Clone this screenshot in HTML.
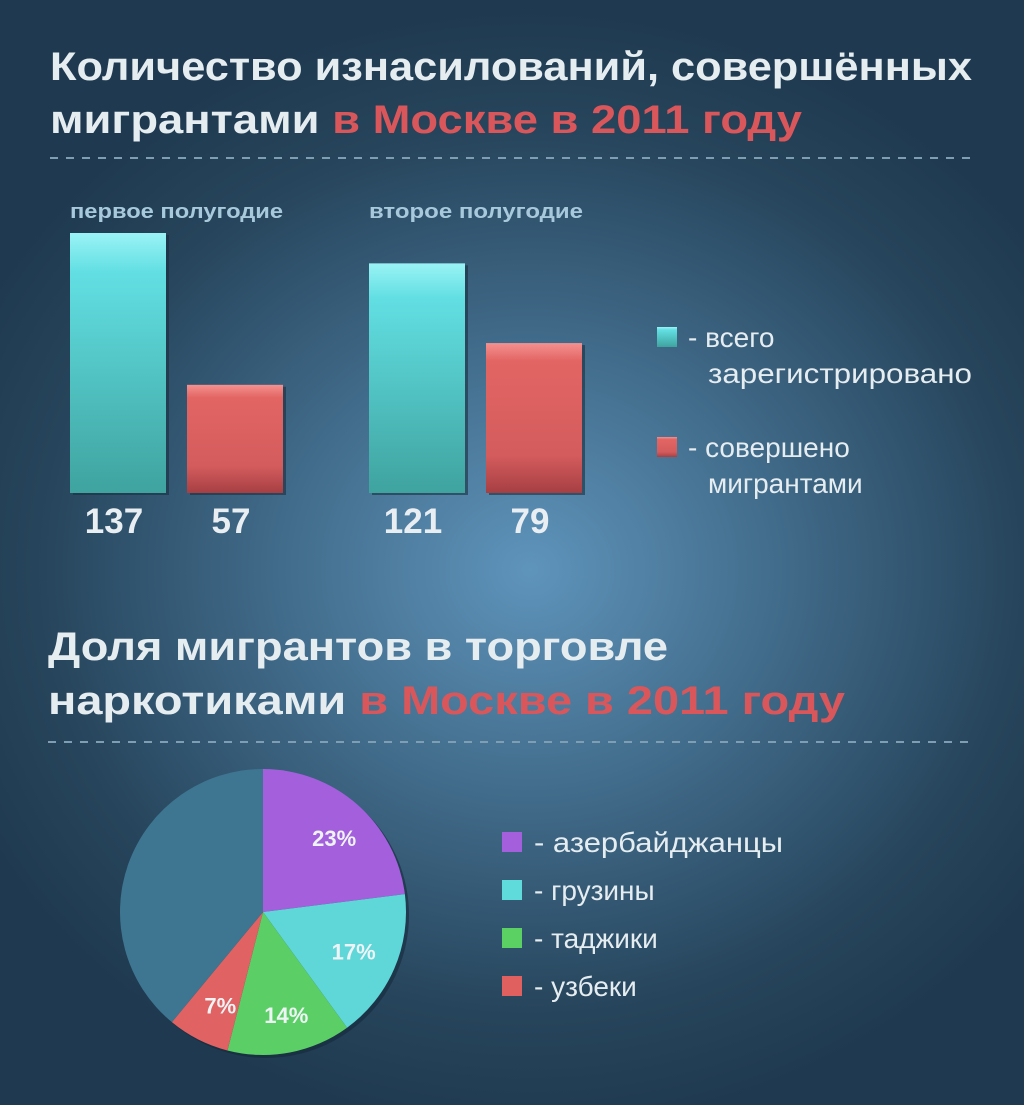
<!DOCTYPE html>
<html><head><meta charset="utf-8"><style>
body{margin:0;width:1024px;height:1105px;overflow:hidden;font-family:"Liberation Sans","DejaVu Sans",sans-serif;}
#bg{position:absolute;left:0;top:0;width:1024px;height:1105px;background:radial-gradient(ellipse 620px 560px at 530px 570px,#5f94bb 0%,#3e6785 45%,#26445b 80%,#1f3a50 100%);}
</style></head><body>
<div id="bg"></div>
<svg width="1024" height="1105" style="position:absolute;left:0;top:0">
<defs>
<linearGradient id="gc" x1="0" y1="0" x2="0" y2="1"><stop offset="0" stop-color="#9af3f5"/><stop offset="0.15" stop-color="#62dfe3"/><stop offset="1" stop-color="#3fa39f"/></linearGradient>
<linearGradient id="gr" x1="0" y1="0" x2="0" y2="1"><stop offset="0" stop-color="#f49190"/><stop offset="0.12" stop-color="#e26563"/><stop offset="0.75" stop-color="#d45c5d"/><stop offset="1" stop-color="#a63f43"/></linearGradient>
</defs>
<g font-weight="bold" font-size="40" fill="#e6edf1">
<text x="50" y="80" textLength="922" lengthAdjust="spacingAndGlyphs">Количество изнасилований, совершённых</text>
<text x="50" y="133" textLength="752" lengthAdjust="spacingAndGlyphs">мигрантами <tspan fill="#d9575b">в Москве в 2011 году</tspan></text>
<text x="48" y="660" textLength="620" lengthAdjust="spacingAndGlyphs">Доля мигрантов в торговле</text>
<text x="48" y="714" textLength="797" lengthAdjust="spacingAndGlyphs">наркотиками <tspan fill="#d9575b">в Москве в 2011 году</tspan></text>
</g>
<line x1="50" y1="158" x2="975" y2="158" stroke="#7f9db3" stroke-width="2" stroke-dasharray="8,8"/>
<line x1="48" y1="742" x2="975" y2="742" stroke="#7f9db3" stroke-width="2" stroke-dasharray="8,8"/>
<g font-weight="bold" font-size="20" fill="#a8c9dc">
<text x="70" y="218" textLength="213" lengthAdjust="spacingAndGlyphs">первое полугодие</text>
<text x="369" y="218" textLength="214" lengthAdjust="spacingAndGlyphs">второе полугодие</text>
</g>
<g id="bars"></g>
<g id="pie"></g>
<g font-size="28" fill="#e6edf1">
<rect x="657" y="327" width="20" height="20" fill="url(#gc)"/>
<text x="688" y="347">- всего</text>
<text x="708" y="383" textLength="264" lengthAdjust="spacingAndGlyphs">зарегистрировано</text>
<rect x="657" y="437" width="20" height="20" fill="url(#gr)"/>
<text x="688" y="457">- совершено</text>
<text x="708" y="493">мигрантами</text>
<rect x="502" y="832" width="20" height="20" fill="#a35fdc"/>
<text x="534" y="852" textLength="249" lengthAdjust="spacingAndGlyphs">- азербайджанцы</text>
<rect x="502" y="880" width="20" height="20" fill="#5fdbdc"/>
<text x="534" y="900">- грузины</text>
<rect x="502" y="928" width="20" height="20" fill="#5bd164"/>
<text x="534" y="948">- таджики</text>
<rect x="502" y="976" width="20" height="20" fill="#e06060"/>
<text x="534" y="996">- узбеки</text>
</g>
</svg>
<script>
const halfYears=["первое полугодие","второе полугодие"];
const totalValues=[137,121];
const migrantValues=[57,79];
const pieLabels=["азербайджанцы","грузины","таджики","узбеки","прочие"];
const pieValues=[23,17,14,7,39];
const ns="http://www.w3.org/2000/svg";
const baseY=493,scale=260/137,groupX=[70,369],barW=96,gap=21;
function y(v){return baseY-v*scale;}
const bars=document.getElementById('bars');
function mk(t,a,p){const e=document.createElementNS(ns,t);for(const k in a)e.setAttribute(k,a[k]);p.appendChild(e);return e;}
halfYears.forEach((h,i)=>{
 [[totalValues[i],'url(#gc)','total'],[migrantValues[i],'url(#gr)','migrants']].forEach((s,j)=>{
  const x=groupX[i]+j*(barW+gap);
  mk('rect',{x:x+3,y:y(s[0])+2,width:barW,height:s[0]*scale,fill:'#1b2f40',opacity:0.6},bars);
  const r=mk('rect',{x:x,y:y(s[0]),width:barW,height:s[0]*scale,fill:s[1]},bars);
  
  
  const t=mk('text',{x:x+barW/2-4,y:533,'text-anchor':'middle','font-size':35,'font-weight':'bold',fill:'#e8eef2'},bars);
  t.textContent=s[0];
  
  
 });
});
const pie=document.getElementById('pie');
const cx=263,cy=912,R=143;
const colors=['#a35fdc','#5fd6d8','#5bcf66','#e06262','#3e7691'];
const total=pieValues.reduce((a,b)=>a+b,0);
mk('circle',{cx:cx+3,cy:cy+3,r:R,fill:'#162a3a',opacity:0.6},pie);
let acc=0;
pieValues.forEach((v,i)=>{
 const a0=acc/total*2*Math.PI;acc+=v;const a1=acc/total*2*Math.PI;
 const p=(a)=>[cx+R*Math.sin(a),cy-R*Math.cos(a)];
 const [x0,y0]=p(a0),[x1,y1]=p(a1);
 const large=(a1-a0)>Math.PI?1:0;
 const s=mk('path',{d:`M${cx},${cy}L${x0},${y0}A${R},${R} 0 ${large} 1 ${x1},${y1}Z`,fill:colors[i]},pie);
 
 
 if(i<4){
  const am=(a0+a1)/2,rr=[0.71,0.66,0.72,0.72][i];
  const t=mk('text',{x:cx+R*rr*Math.sin(am)+4,y:cy-R*rr*Math.cos(am)+10,'text-anchor':'middle','font-size':22,'font-weight':'bold',fill:'#eef4f6'},pie);
  t.textContent=v+'%';
  
  
 }
});
</script>
</body></html>
